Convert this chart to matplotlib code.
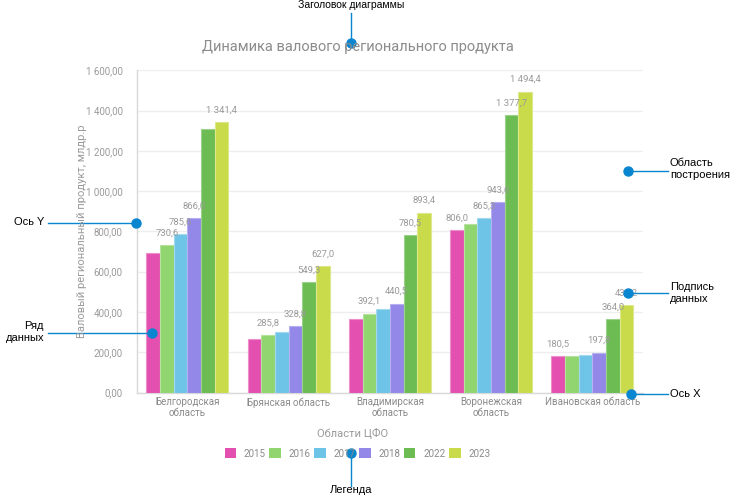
import matplotlib
matplotlib.use("Agg")
import matplotlib.pyplot as plt
from matplotlib.ticker import FuncFormatter
from matplotlib.lines import Line2D
import numpy as np

# ---------------- data ----------------
regions = ["Белгородская\nобласть", "Брянская область", "Владимирская\nобласть",
           "Воронежская\nобласть", "Ивановская область"]
years = ["2015", "2016", "2017", "2018", "2022", "2023"]
v2015 = [691.0, 266.0, 367.0, 806.0, 180.5]
v2016 = [730.6, 285.8, 392.1, 839.0, 179.5]
v2017 = [785.6, 300.5, 413.0, 865.3, 187.0]
v2018 = [866.0, 328.8, 440.5, 943.6, 197.8]
v2022 = [1309.0, 549.3, 780.5, 1377.7, 364.0]
v2023 = [1341.4, 627.0, 893.4, 1494.4, 432.2]
series = [v2015, v2016, v2017, v2018, v2022, v2023]
# which data labels are visible (others hidden by overlap in the original)
show2015 = [False, False, False, True, True]
show2016 = [True, True, True, False, False]
show2017 = [True, False, False, True, False]
show2018 = [True, True, True, True, True]
show2022 = [False, True, True, True, True]
show2023 = [True, True, True, True, True]
shows = [show2015, show2016, show2017, show2018, show2022, show2023]

colors = ["#E350B0", "#90D56F", "#6EC4E7", "#9388E8", "#6CBC53", "#C9DB4A"]
edges = ["#EE8FCB", "#B5E39E", "#A3D9EF", "#B7B0F0", "#9BD18A", "#DCE88A"]

W, H = 754, 496
plt.rcParams['font.family'] = ['Roboto', 'DejaVu Sans']

fig = plt.figure(figsize=(W / 100, H / 100), dpi=100)
fig.patch.set_facecolor("white")


def fx(px):
    return px / W


def fy(py):
    return 1 - py / H


ax = fig.add_axes([fx(136.7), fy(392.5), fx(643) - fx(136.7), fy(70.3) - fy(392.5)])

x = np.arange(len(regions))
bw = 0.135
n = len(series)
for i, (vals, c, ec, sh) in enumerate(zip(series, colors, edges, shows)):
    pos = x + (i - (n - 1) / 2) * bw
    ax.bar(pos, vals, width=bw, color=c, edgecolor=ec, linewidth=0.8,
           label=years[i], zorder=3)
    for xp, v, s in zip(pos, vals, sh):
        if s:
            txt = f"{v:,.1f}".replace(",", " ").replace(".", ",")
            ax.annotate(txt, (xp, v), xytext=(0, 5.5), textcoords="offset points",
                        ha="center", va="bottom", fontsize=6.8, color="#9a9a9a",
                        zorder=4)

ax.set_xlim(-0.5, len(regions) - 0.5)
ax.set_ylim(0, 1600)
ax.set_yticks(np.arange(0, 1601, 200))
ax.yaxis.set_major_formatter(FuncFormatter(
    lambda v, p: f"{v:,.2f}".replace(",", " ").replace(".", ",")))
ax.set_xticks(x)
ax.set_xticklabels(regions, fontsize=7, color="#8a8a8a", linespacing=1.05)
ax.tick_params(axis="y", length=0, pad=10, labelsize=7, labelcolor="#9a9a9a")
ax.tick_params(axis="x", length=0, pad=3.5)
ax.grid(axis="y", color="#eeeeee", linewidth=1, zorder=0)
ax.set_axisbelow(True)
for s in ["top", "right"]:
    ax.spines[s].set_visible(False)
for s in ["left", "bottom"]:
    ax.spines[s].set_color("#d9d9d9")
    ax.spines[s].set_linewidth(1)

fig.text(fx(82), fy(231), "Валовый региональный продукт, млдр.р", rotation=90,
         ha="center", va="center", fontsize=8, color="#9a9a9a")

fig.text(fx(358), fy(47), "Динамика валового регионального продукта",
         ha="center", va="center", fontsize=10.5, color="#8c8c8c")
fig.text(fx(353), fy(433), "Области ЦФО", ha="center", va="center",
         fontsize=8, color="#9a9a9a")

leg = fig.legend(loc="center", bbox_to_anchor=(fx(357.5), fy(453.5)), ncol=6,
                 frameon=False, fontsize=7, handlelength=1.2, handleheight=1.2,
                 handletextpad=0.8, columnspacing=0.35, labelcolor="#8a8a8a")
for h in leg.legend_handles:
    h.set_linewidth(0)

# ---------------- callouts ----------------
blue = "#0A85D0"
ann_font = dict(fontsize=8, color="black", family=["Liberation Sans", "DejaVu Sans"])


def callout(x0, y0, x1, y1):
    fig.add_artist(Line2D([fx(x0), fx(x1)], [fy(y0), fy(y1)], color=blue,
                          linewidth=1.0, transform=fig.transFigure))
    fig.add_artist(Line2D([fx(x1)], [fy(y1)], marker="o", markersize=6.5,
                          color=blue, transform=fig.transFigure))


callout(351, 13, 351, 43)
fig.text(fx(351), fy(5), "Заголовок диаграммы", ha="center", va="center",
         fontsize=7.5, color="black", family=["Liberation Sans", "DejaVu Sans"])

callout(668, 171, 628, 171)
fig.text(fx(670), fy(169), "Область\nпостроения", ha="left", va="center",
         linespacing=1.2, **ann_font)

callout(668, 293, 628, 293)
fig.text(fx(670), fy(293), "Подпись\nданных", ha="left", va="center",
         linespacing=1.2, **ann_font)

callout(668, 394, 631, 394)
fig.text(fx(670), fy(394), "Ось X", ha="left", va="center", **ann_font)

callout(48, 223, 136, 223)
fig.text(fx(44), fy(222), "Ось Y", ha="right", va="center", **ann_font)

callout(48, 333, 152, 333)
fig.text(fx(44), fy(332), "Ряд\nданных", ha="right", va="center",
         linespacing=1.2, **ann_font)

callout(351, 486, 351, 453)
fig.text(fx(351), fy(490), "Легенда", ha="center", va="center", **ann_font)

fig.savefig("out.png", dpi=100, facecolor="white")
